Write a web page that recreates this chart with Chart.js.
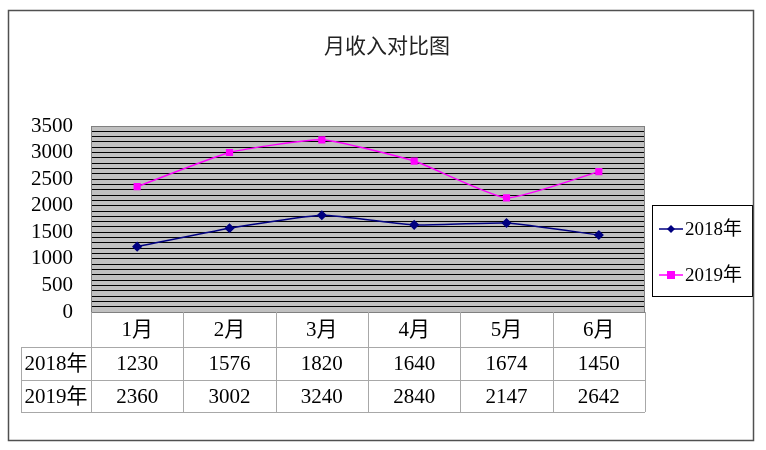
<!DOCTYPE html>
<html>
<head>
<meta charset="utf-8">
<script src="https://cdn.jsdelivr.net/npm/chart.js@4/dist/chart.umd.min.js"></script>
<style>
  html, body { margin: 0; padding: 0; background: #fff; }
  #incomeChart { display: block; }
</style>
</head>
<body>
<canvas id="incomeChart" width="766" height="450"></canvas>
<script>
const months = ['1月', '2月', '3月', '4月', '5月', '6月'];
const seriesNames = ['2018年', '2019年'];
const income2018 = [1230, 1576, 1820, 1640, 1674, 1450];
const income2019 = [2360, 3002, 3240, 2840, 2147, 2642];
const yTickLabels = [0, 500, 1000, 1500, 2000, 2500, 3000, 3500];
const chartTitle = '月收入对比图';

const serifFont = '"Liberation Serif", "Noto Sans CJK SC", serif';

// grey plot background and its outline
const plotBackground = {
    id: 'plotBackground',
    beforeDraw(chart) {
        const { ctx, chartArea } = chart;
        ctx.save();
        ctx.fillStyle = '#fff';
        ctx.fillRect(0, 0, chart.width, chart.height);
        ctx.fillStyle = '#c0c0c0';
        ctx.fillRect(chartArea.left, chartArea.top, chartArea.right - chartArea.left, chartArea.bottom - chartArea.top);
        ctx.restore();
    },
    beforeDatasetsDraw(chart) {
        const { ctx, chartArea } = chart;
        ctx.save();
        ctx.strokeStyle = '#808080';
        ctx.lineWidth = 1;
        ctx.strokeRect(chartArea.left + 0.5, chartArea.top + 0.5, chartArea.right - chartArea.left - 1, chartArea.bottom - chartArea.top);
        ctx.restore();
    }
};

// title, data table, legend box and outer frame
const extras = {
    id: 'extras',
    afterDraw(chart) {
        const { ctx, chartArea } = chart;
        const xs = chart.scales.x;
        const half = (xs.getPixelForValue(1) - xs.getPixelForValue(0)) / 2;
        ctx.save();

        // title
        ctx.fillStyle = '#222';
        ctx.font = '21px "Noto Sans CJK SC"';
        ctx.textAlign = 'center';
        ctx.textBaseline = 'middle';
        ctx.fillText(chartTitle, 387, 45);

        // data table
        const rowTops = [chartArea.bottom, chartArea.bottom + 35, chartArea.bottom + 68, chartArea.bottom + 100];
        const headLeft = 21;
        const left = chartArea.left, right = chartArea.right;
        ctx.strokeStyle = '#a8a8a8';
        ctx.lineWidth = 1;
        ctx.beginPath();
        // horizontal lines
        ctx.moveTo(left, Math.round(rowTops[1]) + 0.5); ctx.lineTo(right, Math.round(rowTops[1]) + 0.5);
        ctx.moveTo(headLeft, Math.round(rowTops[1]) + 0.5); ctx.lineTo(left, Math.round(rowTops[1]) + 0.5);
        ctx.moveTo(headLeft, Math.round(rowTops[2]) + 0.5); ctx.lineTo(right, Math.round(rowTops[2]) + 0.5);
        ctx.moveTo(headLeft, Math.round(rowTops[3]) + 0.5); ctx.lineTo(right, Math.round(rowTops[3]) + 0.5);
        // vertical lines
        ctx.moveTo(headLeft + 0.5, rowTops[1]); ctx.lineTo(headLeft + 0.5, rowTops[3]);
        for (let i = 0; i <= months.length; i++) {
            const x = Math.round(xs.getPixelForValue(i) - half) + 0.5;
            ctx.moveTo(x, rowTops[0]); ctx.lineTo(x, rowTops[3]);
        }
        ctx.stroke();

        ctx.fillStyle = '#000';
        ctx.font = '21px ' + serifFont;
        const rows = [income2018, income2019];
        months.forEach((m, i) => {
            const x = xs.getPixelForValue(i);
            ctx.fillText(m, x, (rowTops[0] + rowTops[1]) / 2 + 1);
            rows.forEach((r, j) => {
                ctx.fillText(String(r[i]), x, (rowTops[j + 1] + rowTops[j + 2]) / 2 + 1);
            });
        });
        seriesNames.forEach((name, j) => {
            ctx.fillText(name, (headLeft + left) / 2, (rowTops[j + 1] + rowTops[j + 2]) / 2 + 1);
        });

        // legend
        ctx.strokeStyle = '#000';
        ctx.strokeRect(652.5, 205.5, 100, 91);
        ctx.font = '19px ' + serifFont;
        ctx.textAlign = 'left';
        const legendY = [229, 275];
        chart.data.datasets.forEach((ds, j) => {
            const y = legendY[j];
            ctx.strokeStyle = ds.borderColor;
            ctx.lineWidth = 1.5;
            ctx.beginPath();
            ctx.moveTo(659, y); ctx.lineTo(683, y);
            ctx.stroke();
            ctx.fillStyle = ds.backgroundColor;
            ctx.beginPath();
            if (ds.pointStyle === 'rect') {
                ctx.rect(667, y - 4, 8, 8);
            } else {
                ctx.moveTo(671, y - 4); ctx.lineTo(675, y); ctx.lineTo(671, y + 4); ctx.lineTo(667, y);
                ctx.closePath();
            }
            ctx.fill();
            ctx.fillStyle = '#000';
            ctx.fillText(ds.label, 685, y + 1);
        });

        // outer frame
        ctx.strokeStyle = '#505050';
        ctx.lineWidth = 1.5;
        ctx.strokeRect(8.5, 10.5, 745, 430);
        ctx.restore();
    }
};

new Chart(document.getElementById('incomeChart').getContext('2d'), {
    type: 'line',
    data: {
        labels: months,
        datasets: [{
            label: seriesNames[0],
            data: income2018,
            borderColor: '#000080',
            backgroundColor: '#000080',
            borderWidth: 1.5,
            pointStyle: 'rectRot',
            pointRadius: 4,
            pointHoverRadius: 4,
            tension: 0.15
        }, {
            label: seriesNames[1],
            data: income2019,
            borderColor: '#ff00ff',
            backgroundColor: '#ff00ff',
            borderWidth: 1.5,
            pointStyle: 'rect',
            pointRadius: 4,
            pointHoverRadius: 4,
            tension: 0.15
        }]
    },
    options: {
        responsive: false,
        animation: false,
        events: [],
        layout: { padding: { left: 8, top: 126, right: 121, bottom: 138 } },
        plugins: {
            legend: { display: false },
            title: { display: false },
            tooltip: { enabled: false }
        },
        scales: {
            x: {
                display: false,
                offset: true
            },
            y: {
                min: 0,
                max: 3500,
                afterFit(scale) { scale.width = 83; },
                border: { display: false },
                grid: { color: '#000', lineWidth: 1, drawTicks: false },
                ticks: {
                    stepSize: 100,
                    autoSkip: false,
                    padding: 18,
                    color: '#000',
                    font: { family: serifFont, size: 21 },
                    callback: (v) => yTickLabels.includes(v) ? String(v) : ''
                }
            }
        }
    },
    plugins: [plotBackground, extras]
});
</script>
</body>
</html>
